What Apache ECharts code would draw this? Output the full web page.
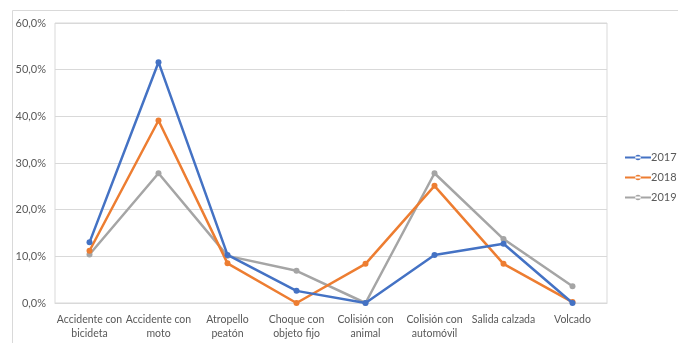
<!DOCTYPE html>
<html>
<head>
<meta charset="utf-8">
<script src="https://cdn.jsdelivr.net/npm/echarts@6/dist/echarts.min.js"></script>
<style>
  html, body { margin: 0; padding: 0; background: #fff; }
  #chart { width: 678px; height: 343px; }
</style>
</head>
<body>
<div id="chart"></div>
<script>
// Accident types (two-line labels)
const categories = [
  'Accidente con\nbicideta',
  'Accidente con\nmoto',
  'Atropello\npeatón',
  'Choque con\nobjeto fijo',
  'Colisión con\nanimal',
  'Colisión con\nautomóvil',
  'Salida calzada',
  'Volcado'
];

// Share of accidents per year, in percent
const years = ['2017', '2018', '2019'];
const values2017 = [13.0, 51.6, 10.3, 2.6, 0.0, 10.3, 12.7, 0.0];
const values2018 = [11.2, 39.1, 8.5, 0.0, 8.4, 25.1, 8.4, 0.2];
const values2019 = [10.4, 27.8, 10.1, 6.9, 0.0, 27.8, 13.7, 3.6];
const yTicks = [0, 10, 20, 30, 40, 50, 60];

const colors = ['#4472C4', '#ED7D31', '#A5A5A5'];
const seriesValues = [values2017, values2018, values2019];
const textColor = '#595959';
const fontFamily = 'Lato, "Open Sans", sans-serif';

const chart = echarts.init(document.getElementById('chart'), null, { renderer: 'canvas' });

chart.setOption({
  animation: false,
  textStyle: { fontFamily: fontFamily },
  graphic: [{
    type: 'rect',
    left: 10, top: 8,
    shape: { width: 700, height: 360 },
    style: { fill: 'none', stroke: '#d9d9d9', lineWidth: 1 },
    silent: true
  }],
  grid: {
    left: 55, right: 71, top: 23, bottom: 40,
    show: true,
    borderColor: '#d9d9d9',
    borderWidth: 1,
    backgroundColor: 'transparent'
  },
  legend: {
    orient: 'vertical',
    left: 625,
    top: 152,
    padding: 0,
    itemGap: 9,
    itemWidth: 26,
    itemHeight: 12,
    textStyle: { color: textColor, fontSize: 11, fontFamily: fontFamily, padding: [0, 0, 0, -5] },
    data: years.map(y => ({ name: y, icon: 'path://M0,5.2 H28 V7.2 H0 Z M11,6.2 a3,3 0 1,0 6,0 a3,3 0 1,0 -6,0 Z' }))
  },
  xAxis: {
    type: 'category',
    data: categories,
    boundaryGap: true,
    axisLine: { show: true, lineStyle: { color: '#d9d9d9' } },
    axisTick: { show: false },
    axisLabel: {
      color: textColor,
      fontSize: 10.5,
      lineHeight: 14,
      margin: 10,
      interval: 0
    }
  },
  yAxis: {
    type: 'value',
    min: yTicks[0],
    max: yTicks[yTicks.length - 1],
    interval: 10,
    axisLine: { show: false },
    axisTick: { show: false },
    splitLine: { lineStyle: { color: '#d9d9d9', width: 1 } },
    axisLabel: {
      color: textColor,
      fontSize: 11,
      margin: 9,
      formatter: v => v.toFixed(1).replace('.', ',') + '%'
    }
  },
  series: years.map((y, i) => ({
    name: y,
    type: 'line',
    data: seriesValues[i],
    color: colors[i],
    symbol: 'circle',
    symbolSize: 6,
    lineStyle: { width: 2.5, color: colors[i] },
    itemStyle: { color: colors[i] },
    z: 10 - i
  }))
});
</script>
</body>
</html>
